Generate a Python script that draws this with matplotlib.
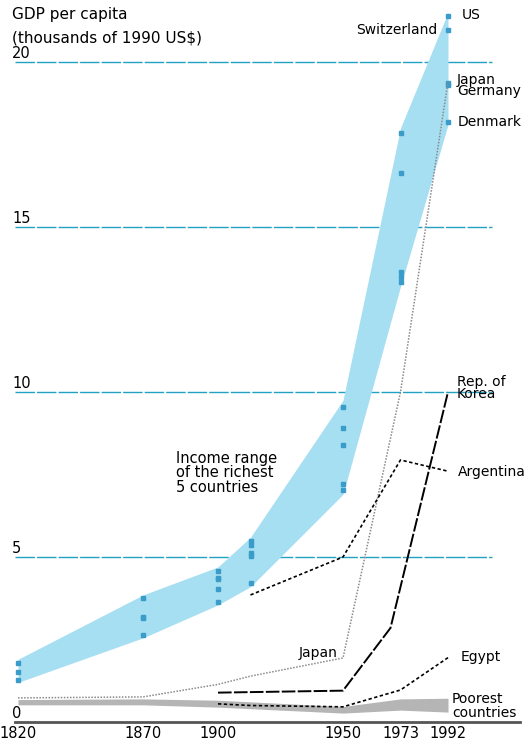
"""
GDP per capita since 1820: income range of the richest 5 countries vs. selected economies.
"""

import matplotlib.pyplot as plt

# --- data (thousands of 1990 US$) -------------------------------------------
rich_years = [1820, 1870, 1900, 1913, 1950, 1973, 1992]
rich_low = [1.2, 2.55, 3.55, 4.1, 6.9, 13.2, 18.1]
rich_high = [1.9, 3.85, 4.7, 5.6, 9.75, 18.0, 21.5]
rich_points = [
    [1.79, 1.52, 1.27],
    [3.76, 3.18, 3.15, 2.64],
    [4.58, 4.36, 4.33, 4.03, 3.64],
    [5.50, 5.35, 5.12, 5.03, 4.21],
    [9.55, 8.91, 8.39, 7.21, 7.03],
    [17.85, 16.64, 13.64, 13.48, 13.33],
    [21.4, 20.97, 19.36, 19.30, 18.18],
]

poor_years = [1820, 1870, 1900, 1950, 1973, 1992]
poor_low = [0.52, 0.52, 0.45, 0.27, 0.36, 0.30]
poor_high = [0.68, 0.70, 0.66, 0.47, 0.70, 0.72]

japan_years = [1820, 1870, 1900, 1913, 1950, 1973, 1992]
japan_gdp = [0.73, 0.76, 1.14, 1.39, 1.94, 10.0, 19.4]

korea_years = [1900, 1950, 1969, 1992]
korea_gdp = [0.89, 0.95, 2.85, 10.0]

argentina_years = [1913, 1950, 1973, 1992]
argentina_gdp = [3.85, 5.0, 7.94, 7.6]

egypt_years = [1900, 1913, 1950, 1973, 1992]
egypt_gdp = [0.55, 0.5, 0.46, 0.97, 1.95]

grid_values = [5, 10, 15, 20]
ylabels = ["0", "5", "10", "15", "20"]
year_ticks = [1820, 1870, 1900, 1950, 1973, 1992]

BAND = "#a6def2"
DOT = "#3a9cc8"
GRID = "#22a2c2"
FS = 10

fig = plt.figure(figsize=(5.26, 7.4), dpi=100)
ax = fig.add_axes([15 / 526, 18 / 740, 505 / 526, 722 / 740])
ax.set_xlim(1818.8, 2020.8)
ax.set_ylim(0, 722 / 33)

# gridlines under everything
ax.hlines(grid_values, 1818.8, 2009.6, colors=GRID, linewidth=1,
          linestyles=(0, (14, 1.5)), zorder=1)

# richest 5 band
ax.fill_between(rich_years, rich_low, rich_high, color=BAND, lw=0, zorder=2)
for yr, vals in zip(rich_years, rich_points):
    ax.plot([yr] * len(vals), vals, ls="none", marker="s", ms=2.2,
            color=DOT, zorder=3)

# poorest countries band
ax.fill_between(poor_years, poor_low, poor_high, color="#b5b5b5", lw=0, zorder=2)

# country lines
ax.plot(japan_years, japan_gdp, color="#8a8a8a", lw=1.1, ls=(0, (1, 1)), zorder=4)
ax.plot(korea_years, korea_gdp, color="black", lw=1.4, ls=(0, (7, 1.2)), zorder=5)
ax.plot(argentina_years, argentina_gdp, color="black", lw=1.2, ls=(0, (2, 1.5)), zorder=5)
ax.plot(egypt_years, egypt_gdp, color="black", lw=1.2, ls=(0, (2, 1.5)), zorder=5)

# axes styling
for side in ["left", "right", "top"]:
    ax.spines[side].set_visible(False)
ax.spines["bottom"].set_color("#555555")
ax.spines["bottom"].set_linewidth(2)
ax.set_yticks([])
ax.set_xticks(year_ticks)
ax.set_xticklabels([str(y) for y in year_ticks], fontsize=10.5)
ax.tick_params(axis="x", length=0, pad=3)

# y value labels above gridlines
for lab, v in zip(ylabels, [0] + grid_values):
    ax.text(1817.6, v + 0.26, lab, fontsize=10.5, ha="left", va="center")

ax.text(1817.6, 21.45, "GDP per capita", fontsize=11, ha="left", va="center")
ax.text(1817.6, 20.73, r"(thousands of 1990 US\$)", fontsize=11, ha="left", va="center")

# annotations
ax.text(1997.6, 21.42, "US", fontsize=FS, ha="left", va="center")
ax.text(1987.6, 20.97, "Switzerland", fontsize=FS, ha="right", va="center")
ax.text(1995.6, 19.29, "Japan\nGermany", fontsize=FS, ha="left", va="center",
        linespacing=0.8)
ax.text(1996.0, 18.18, "Denmark", fontsize=FS, ha="left", va="center")
ax.text(1995.6, 10.12, "Rep. of\nKorea", fontsize=FS, ha="left", va="center",
        linespacing=0.9)
ax.text(1996.0, 7.58, "Argentina", fontsize=FS, ha="left", va="center")
ax.text(1997.0, 1.97, "Egypt", fontsize=FS, ha="left", va="center")
ax.text(1993.6, 0.70, "Poorest", fontsize=FS, ha="left", va="center")
ax.text(1993.6, 0.27, "countries", fontsize=FS, ha="left", va="center")
ax.text(1948.0, 2.09, "Japan", fontsize=FS, ha="right", va="center")
ax.text(1883.2, 7.55, "Income range\nof the richest\n5 countries", fontsize=10.5,
        ha="left", va="center", linespacing=0.95)

fig.savefig("out.png", dpi=100)
